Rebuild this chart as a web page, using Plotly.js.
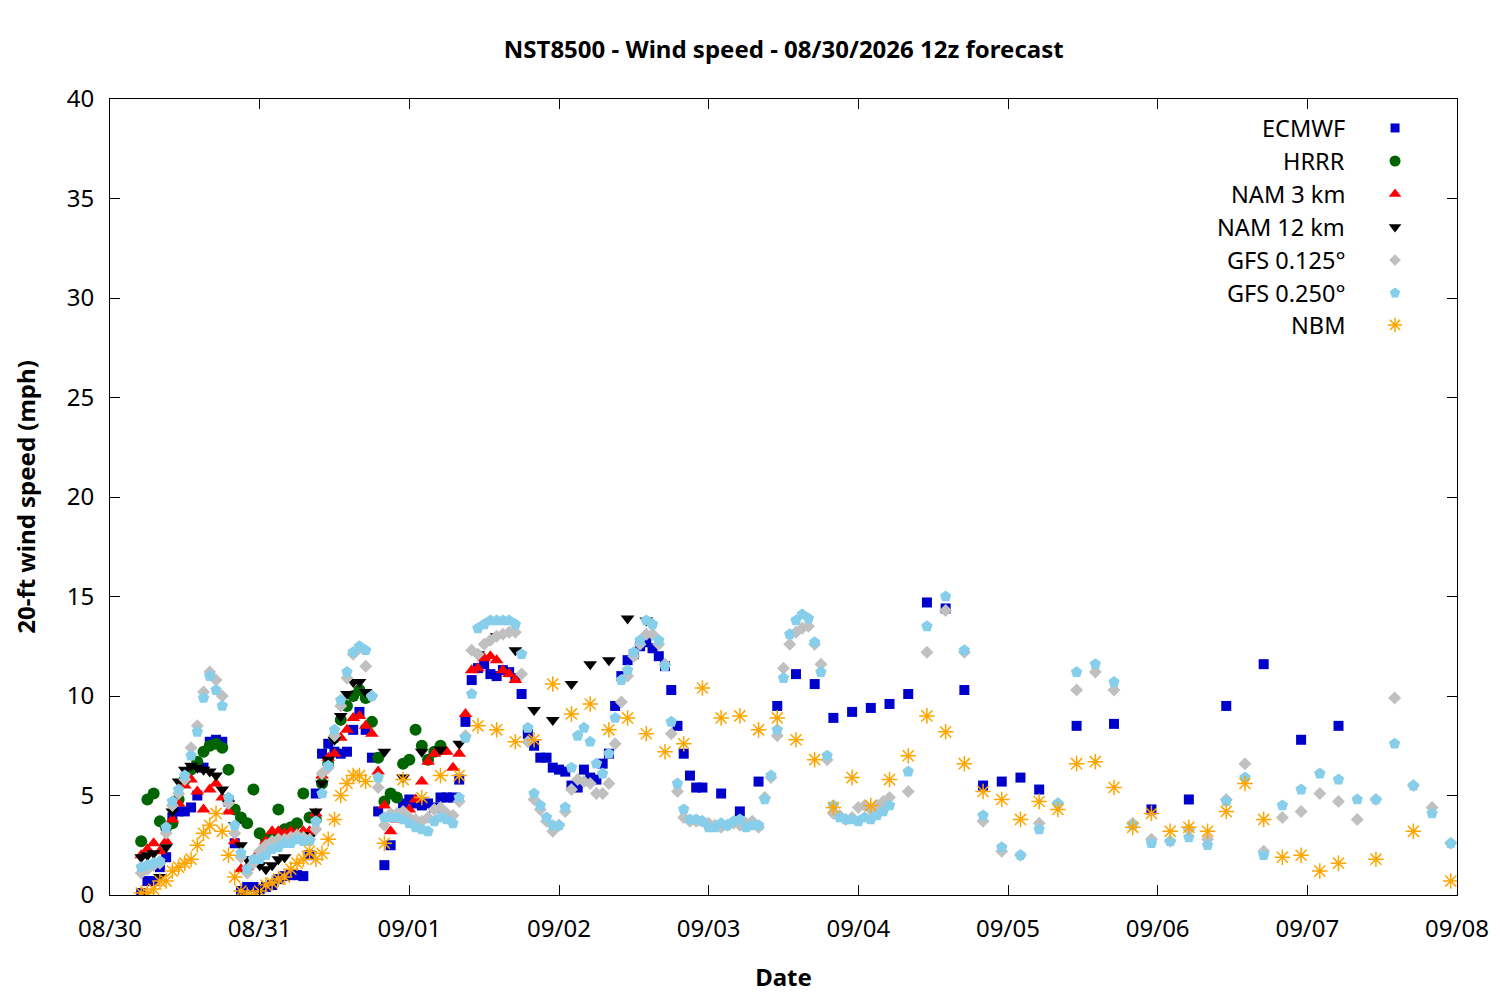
<!DOCTYPE html>
<html>
<head>
<meta charset="utf-8">
<script src="https://cdn.plot.ly/plotly-3.0.1.min.js"></script>
<style>body{margin:0;background:#fff}</style>
</head>
<body>
<div id="chart" style="width:1500px;height:1000px"></div>
<script>
// forecast hours counted from the 12z run (05:00 local on 08/30)
function hrs(a, b, step) {
  var out = [];
  for (var h = a; h <= b; h += step) out.push(h);
  return out;
}

var ecmwfHours = hrs(0, 90, 1).concat(hrs(93, 144, 3), hrs(150, 192, 6));
var ecmwfSpeed = [
  0.1, 0.7, 0.7, 1.4, 1.9, 3.9, 4.2, 4.2, 4.4, 5.0,
  6.4, 7.7, 7.8, 7.7, 4.7, 2.6, 0.2, 0.4, 0.4, 0.3,
  0.4, 0.5, 0.8, 0.95, 1.0, 1.0, 0.95, 2.0, 5.1, 7.1,
  7.6, 7.2, 7.1, 7.2, 8.3, 9.2, 8.3, 6.9, 4.2, 1.5,
  2.5, 4.0, 4.6, 4.8, 4.6, 4.5, 4.6, 4.4, 4.9, 4.9,
  4.9, 5.8, 8.7, 10.8, 11.4, 11.6, 11.1, 11.0, 11.3, 11.2,
  10.9, 10.1, 8.1, 7.5, 6.9, 6.9, 6.4, 6.3, 6.2, 5.5,
  5.4, 6.3, 5.9, 5.8, 6.6, 7.1, 9.5, 11.0, 11.8, 12.1,
  12.5, 12.7, 12.4, 12.0, 11.5, 10.3, 8.5, 7.1, 6.0, 5.4, 5.4,
  5.1, 4.2, 5.7, 9.5, 11.1, 10.6, 8.9, 9.2, 9.4, 9.6,
  10.1, 14.7, 14.4, 10.3, 5.5, 5.7, 5.9, 5.3,
  8.5, 8.6, 4.3, 4.8, 9.5, 11.6, 7.8, 8.5
];

var hrrrHours = hrs(0, 48, 1);
var hrrrSpeed = [
  2.7, 4.8, 5.1, 3.7, 3.4, 3.6, 4.8, 5.8, 6.3, 6.7,
  7.2, 7.5, 7.6, 7.4, 6.3, 4.3, 3.9, 3.6, 5.3, 3.1,
  2.8, 3.0, 4.3, 3.3, 3.4, 3.6, 5.1, 3.9, 3.8, 5.6,
  6.6, 7.9, 8.8, 9.5, 10.0, 10.3, 9.9, 8.7, 6.9, 4.7,
  5.1, 4.9, 6.6, 6.8, 8.3, 7.5, 6.8, 7.2, 7.5
];

var nam3Hours = hrs(0, 60, 1);
var nam3Speed = [
  2.0, 2.3, 2.6, 2.2, 2.7, 3.8, 4.6, 5.5, 5.8, 5.2,
  4.3, 5.3, 5.6, 4.9, 4.2, 2.7, 1.3, 1.4, 1.8, 2.2,
  2.7, 3.2, 3.2, 3.1, 3.2, 3.1, 3.2, 3.2, 4.1, 6.0,
  6.9, 7.1, 7.9, 8.3, 8.9, 9.0, 8.5, 8.1, 6.2, 4.5,
  3.2, 3.8, 4.2, 4.3, 4.8, 5.7, 6.7, 7.1, 7.2, 7.2,
  6.4, 7.1, 9.1, 11.3, 11.4, 11.9, 12.0, 11.8, 11.3, 11.1, 10.8
];

var nam12Hours = hrs(0, 36, 1).concat(hrs(39, 81, 3));
var nam12Speed = [
  1.9, 2.0, 2.1, 0.9, 2.4, 4.2, 5.7, 6.3, 6.5, 6.4,
  6.3, 6.2, 6.0, 5.3, 4.6, 3.5, 2.5, 1.8, 1.6, 1.5,
  1.3, 1.5, 1.8, 1.9, 2.8, 2.9, 3.0, 2.9, 4.2, 5.6,
  6.8, 7.8, 9.0, 10.1, 10.7, 10.7, 10.2,
  7.2, 5.9, 7.2, 7.3, 7.6, 12.1, 13.0, 12.3, 9.3, 8.8,
  10.6, 11.6, 11.8, 13.9, 13.8
];

var gfsHours = hrs(0, 120, 1).concat(hrs(123, 210, 3));
var gfs125Speed = [
  1.1, 1.3, 1.5, 1.6, 3.1, 4.5, 5.1, 5.8, 7.4, 8.5,
  10.2, 11.2, 10.8, 10.0, 4.6, 3.1, 1.9, 1.1, 1.6, 2.2,
  2.5, 2.7, 2.8, 2.8, 2.9, 3.0, 2.9, 2.8, 3.3, 6.1,
  6.4, 8.0, 9.5, 10.9, 12.1, 12.4, 11.5, 10.0, 5.4, 3.5,
  4.1, 4.1, 4.2, 3.9, 3.8, 3.7, 3.9, 4.3, 4.4, 4.1,
  4.0, 4.7, 8.0, 12.3, 12.1, 12.6, 12.8, 13.0, 13.1, 13.2,
  13.2, 11.1, 7.7, 4.8, 4.3, 3.7, 3.2, 3.5, 4.2, 5.3,
  5.8, 5.7, 5.6, 5.1, 5.1, 5.6, 7.6, 9.7, 11.0, 12.0,
  12.6, 13.1, 13.1, 12.6, 11.6, 8.1, 5.2, 3.9, 3.7, 3.7,
  3.7, 3.6, 3.5, 3.4, 3.5, 3.6, 3.5, 3.6, 3.7, 3.4,
  4.9, 5.9, 8.0, 11.4, 12.6, 13.2, 13.4, 13.5, 12.6, 11.6,
  6.8, 4.1, 4.0, 3.8, 3.9, 4.4, 4.5, 4.3, 4.5, 4.7, 4.9,
  5.2, 12.2, 14.3, 12.2, 3.7, 2.2, 2.0, 3.6, 4.6, 10.3,
  11.2, 10.3, 3.6, 2.8, 2.7, 3.3, 2.8, 4.8, 6.6, 2.2,
  3.9, 4.2, 5.1, 4.7, 3.8, 4.8, 9.9, 5.5, 4.4, 2.6
];
var gfs250Speed = [
  1.4, 1.5, 1.6, 1.7, 3.4, 4.7, 5.3, 6.0, 7.0, 8.2,
  9.9, 11.0, 10.3, 9.5, 4.9, 3.5, 2.1, 1.3, 1.8, 1.8,
  2.0, 2.3, 2.4, 2.6, 2.6, 2.8, 2.7, 2.7, 3.7, 5.1,
  6.5, 8.3, 9.8, 11.2, 12.2, 12.5, 12.3, 10.0, 5.9, 3.9,
  3.9, 3.9, 3.8, 3.6, 3.4, 3.3, 3.2, 3.7, 3.9, 3.8,
  3.6, 4.9, 7.9, 10.1, 13.4, 13.6, 13.8, 13.8, 13.8, 13.8,
  13.6, 12.1, 8.4, 5.1, 4.5, 3.9, 3.5, 3.5, 4.4, 6.4,
  8.0, 8.4, 7.7, 6.6, 6.1, 7.1, 8.9, 10.8, 11.3, 12.2,
  12.8, 13.8, 13.6, 12.8, 11.5, 8.7, 5.6, 4.3, 3.8, 3.8,
  3.7, 3.4, 3.4, 3.6, 3.5, 3.7, 3.8, 3.4, 3.5, 3.5,
  4.8, 6.0, 8.3, 10.9, 13.1, 13.8, 14.1, 13.9, 12.7, 11.2,
  7.0, 4.5, 3.9, 3.8, 3.8, 3.7, 3.9, 3.8, 4.0, 4.2, 4.5,
  6.2, 13.5, 15.0, 12.3, 4.0, 2.4, 2.0, 3.3, 4.6, 11.2,
  11.6, 10.7, 3.5, 2.6, 2.7, 2.9, 2.5, 4.7, 5.9, 2.0,
  4.5, 5.3, 6.1, 5.8, 4.8, 4.8, 7.6, 5.5, 4.1, 2.6
];

var nbmHours = hrs(0, 36, 1).concat(hrs(39, 192, 3), hrs(198, 210, 6));
var nbmSpeed = [
  0.1, 0.1, 0.3, 0.7, 0.7, 1.2, 1.4, 1.6, 1.8, 2.5,
  3.1, 3.5, 4.1, 3.2, 2.0, 0.9, 0.2, 0.0, 0.0, 0.2,
  0.5, 0.6, 0.8, 0.9, 1.3, 1.6, 1.8, 2.2, 1.8, 2.1,
  2.8, 3.8, 5.0, 5.6, 6.0, 6.0, 5.7,
  2.6, 5.8, 4.9, 6.0, 6.0, 8.5, 8.3, 7.7,
  7.8, 10.6, 9.1, 9.6, 8.3, 8.9, 8.1, 7.2, 7.6, 10.4,
  8.9, 9.0, 8.3, 8.9, 7.8, 6.8, 4.4, 5.9, 4.5, 5.8,
  7.0, 9.0, 8.2, 6.6, 5.2, 4.8, 3.8, 4.7, 4.3, 6.6,
  6.7, 5.4, 3.4, 4.1, 3.2, 3.4, 3.2, 4.2, 5.6, 3.8,
  1.9, 2.0, 1.2, 1.6,
  1.8, 3.2, 0.7
];

var modelNames = ['ECMWF', 'HRRR', 'NAM 3 km', 'NAM 12 km', 'GFS 0.125\u00b0', 'GFS 0.250\u00b0', 'NBM'];

var runStart = Date.UTC(2026, 7, 30, 5);
function toTime(hours) {
  return hours.map(function (h) {
    return new Date(runStart + h * 3600000).toISOString().slice(0, 19).replace('T', ' ');
  });
}

var styles = [
  {symbol: 'square', size: 10, color: '#0000cd'},
  {symbol: 'circle', size: 12, color: '#006400'},
  {symbol: 'triangle-up', size: 12, color: '#ff0000'},
  {symbol: 'triangle-down', size: 12, color: '#000000'},
  {symbol: 'diamond', size: 10, color: '#c0c0c0'},
  {symbol: 'pentagon', size: 12, color: '#87ceeb'},
  {symbol: 'asterisk-open', size: 13, color: '#ffa500'}
];

var series = [
  [ecmwfHours, ecmwfSpeed],
  [hrrrHours, hrrrSpeed],
  [nam3Hours, nam3Speed],
  [nam12Hours, nam12Speed],
  [gfsHours, gfs125Speed],
  [gfsHours, gfs250Speed],
  [nbmHours, nbmSpeed]
];

function markerFor(s) {
  var m = {symbol: s.symbol, size: s.size, color: s.color, opacity: 1};
  if (s.symbol === 'asterisk-open') m.line = {color: s.color, width: 1.5};
  else m.line = {width: 0};
  return m;
}

var data = series.map(function (pair, i) {
  return {
    x: toTime(pair[0]),
    y: pair[1],
    type: 'scatter',
    mode: 'markers',
    name: modelNames[i],
    marker: markerFor(styles[i]),
    showlegend: false
  };
});

// gnuplot-style key: text right aligned, sample to its right
var keyTextX = 0.9185, keySampleX = 0.954;
var keyRows = [0.9636, 0.9221, 0.8807, 0.8392, 0.7977, 0.7563, 0.7161];

styles.forEach(function (s, i) {
  var m = markerFor(s);
  m.size = s.size - 1;
  data.push({
    x: [keySampleX],
    y: [keyRows[i]],
    xaxis: 'x2',
    yaxis: 'y2',
    type: 'scatter',
    mode: 'markers',
    hoverinfo: 'skip',
    showlegend: false,
    marker: m
  });
});

var annotations = modelNames.map(function (name, i) {
  return {
    xref: 'paper', yref: 'paper', x: keyTextX, y: keyRows[i],
    xanchor: 'right', yanchor: 'middle', showarrow: false,
    text: name, font: {size: 23.5, color: '#000'}
  };
});

var layout = {
  width: 1500,
  height: 1000,
  margin: {l: 110, r: 43, t: 99, b: 105},
  paper_bgcolor: '#fff',
  plot_bgcolor: '#fff',
  font: {family: 'Noto Sans, sans-serif', size: 24, color: '#000'},
  title: {
    text: 'NST8500 - Wind speed - 08/30/2026 12z forecast',
    font: {size: 24, weight: 'bold'},
    x: 0.5225, xanchor: 'center', y: 0.95, yanchor: 'middle'
  },
  showlegend: false,
  xaxis: {
    type: 'date',
    range: ['2026-08-30', '2026-09-08'],
    tick0: '2026-08-30',
    dtick: 86400000,
    tickformat: '%m/%d',
    ticks: 'inside', ticklen: 10, tickcolor: '#000',
    mirror: 'ticks', showline: true, linecolor: '#000', linewidth: 1,
    showgrid: false, zeroline: false,
    ticklabelstandoff: 12,
    title: {text: 'Date', font: {size: 24, weight: 'bold'}, standoff: 26}
  },
  yaxis: {
    range: [0, 40],
    dtick: 5,
    ticks: 'inside', ticklen: 10, tickcolor: '#000',
    mirror: 'ticks', showline: true, linecolor: '#000', linewidth: 1,
    showgrid: false, zeroline: false,
    ticklabelstandoff: 10,
    title: {text: '20-ft wind speed (mph)', font: {size: 24, weight: 'bold'}, standoff: 24}
  },
  xaxis2: {overlaying: 'x', range: [0, 1], visible: false},
  yaxis2: {overlaying: 'y', range: [0, 1], visible: false},
  annotations: annotations
};

Plotly.newPlot('chart', data, layout, {displayModeBar: false, staticPlot: true});
</script>
</body>
</html>
